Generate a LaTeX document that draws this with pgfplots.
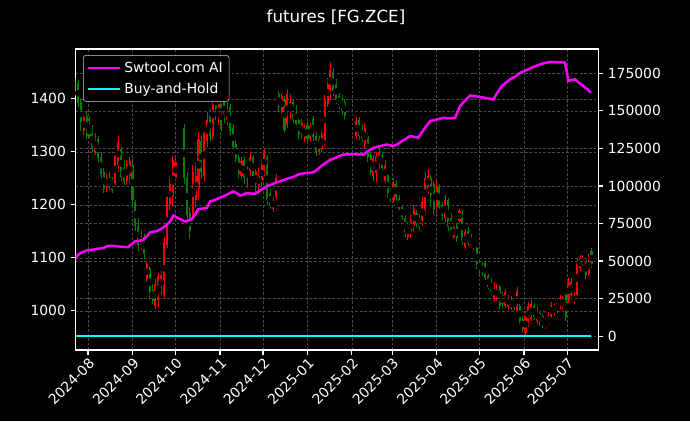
\documentclass[border=0pt]{standalone}
\usepackage{pgfplots}
\pgfplotsset{compat=1.18}
\usepackage{pgfplotstable}
\usepackage{fontspec}
\setmainfont{DejaVu Sans}

\definecolor{upred}{RGB}{255,0,0}
\definecolor{dngreen}{RGB}{0,128,0}
\definecolor{gridc}{RGB}{72,72,72}
\definecolor{stratc}{RGB}{255,0,255}
\definecolor{bhc}{RGB}{0,255,255}

% d = days since 2024-08-01 ; o h l c
\pgfplotstableread{
d o h l c
-9 1415 1440 1408 1432
-7 1430 1436 1385 1392
-5 1395 1402 1340 1350
-3 1340 1372 1332 1365
-1 1368 1375 1325 1330
1 1350 1368 1322 1328
3 1340 1350 1300 1305
5 1300 1335 1295 1328
7 1325 1330 1280 1288
9 1290 1300 1250 1258
11 1262 1270 1222 1230
13 1232 1258 1225 1250
15 1252 1262 1228 1236
17 1245 1252 1222 1228
19 1240 1300 1235 1292
21 1275 1330 1262 1318
23 1305 1310 1245 1252
25 1270 1285 1238 1245
27 1245 1285 1238 1278
29 1255 1290 1240 1282
31 1275 1280 1200 1210
33 1205 1210 1150 1160
35 1160 1175 1112 1125
37 1125 1150 1115 1140
39 1140 1145 1100 1108
41 1060 1092 1055 1088
43 1080 1085 1020 1030
45 1040 1050 1012 1018
47 1010 1060 1003 1050
49 1020 1072 1005 1065
51 1040 1075 1030 1068
53 1030 1140 1022 1130
55 1125 1225 1118 1215
57 1200 1250 1190 1240
59 1215 1292 1195 1285
61 1250 1295 1240 1280
67 1345 1352 1240 1250
69 1250 1262 1170 1180
71 1185 1195 1136 1150
73 1180 1275 1175 1262
75 1210 1280 1195 1255
77 1230 1338 1210 1325
79 1320 1330 1250 1262
81 1255 1345 1245 1335
83 1320 1375 1310 1360
85 1370 1380 1320 1330
87 1330 1420 1325 1410
89 1415 1428 1360 1372
91 1365 1400 1350 1390
93 1385 1392 1340 1348
95 1400 1405 1355 1362
97 1360 1395 1350 1385
99 1385 1390 1330 1340
101 1345 1352 1300 1310
103 1315 1322 1280 1288
105 1290 1295 1250 1258
107 1255 1290 1248 1282
109 1285 1290 1240 1250
111 1248 1280 1232 1272
113 1260 1300 1255 1290
115 1290 1295 1245 1255
117 1240 1275 1220 1262
119 1235 1270 1220 1255
121 1245 1285 1235 1275
123 1265 1306 1255 1298
125 1290 1295 1200 1210
127 1220 1230 1192 1200
129 1192 1215 1187 1210
131 1215 1258 1210 1250
133 1410 1415 1378 1385
135 1375 1412 1370 1405
137 1400 1405 1335 1342
139 1350 1418 1345 1410
141 1375 1410 1362 1395
143 1395 1400 1355 1362
145 1380 1388 1345 1352
147 1360 1368 1325 1332
149 1330 1362 1325 1355
151 1325 1352 1318 1345
153 1350 1356 1318 1325
155 1325 1355 1320 1348
157 1362 1368 1320 1328
159 1330 1338 1292 1300
161 1300 1330 1295 1322
163 1305 1340 1300 1332
165 1320 1408 1312 1400
167 1390 1440 1385 1432
169 1410 1470 1400 1455
171 1450 1458 1405 1415
173 1430 1438 1390 1398
175 1405 1412 1380 1388
177 1400 1408 1370 1378
179 1395 1400 1362 1368
187 1330 1365 1325 1358
189 1360 1365 1322 1330
191 1345 1352 1318 1325
193 1310 1355 1305 1345
195 1330 1335 1280 1290
197 1295 1300 1256 1262
199 1255 1295 1245 1288
201 1260 1300 1243 1292
203 1275 1306 1268 1298
205 1295 1300 1262 1270
207 1245 1285 1240 1275
209 1256 1262 1212 1220
211 1225 1232 1205 1212
213 1210 1250 1205 1240
215 1240 1246 1208 1215
217 1212 1218 1187 1192
219 1195 1200 1172 1178
221 1175 1180 1140 1148
223 1140 1168 1133 1160
225 1150 1180 1140 1172
227 1160 1200 1150 1192
229 1185 1190 1158 1165
231 1175 1182 1150 1158
233 1165 1215 1160 1205
235 1190 1262 1185 1250
237 1230 1268 1220 1255
239 1250 1256 1200 1208
241 1240 1245 1180 1190
243 1195 1246 1190 1235
245 1235 1240 1188 1195
247 1200 1205 1172 1180
249 1175 1218 1168 1210
251 1210 1212 1150 1158
253 1175 1185 1145 1152
255 1140 1165 1135 1158
257 1160 1165 1130 1138
259 1170 1193 1165 1188
261 1185 1190 1125 1132
263 1120 1155 1117 1148
265 1150 1158 1122 1128
267 1125 1145 1120 1140
269 1118 1136 1115 1130
271 1118 1120 1078 1085
273 1090 1098 1070 1078
275 1085 1092 1065 1072
277 1090 1094 1058 1062
279 1065 1070 1040 1045
281 1058 1062 1030 1035
283 1022 1055 1017 1048
285 1025 1050 1018 1042
287 1045 1048 1004 1010
289 1030 1036 1005 1012
291 1010 1042 1005 1035
293 1008 1030 1002 1025
295 1005 1028 1001 1020
297 1020 1024 1002 1006
299 1000 1045 998 1038
301 1010 1012 975 980
303 985 990 960 966
305 958 998 954 990
307 975 1017 970 1010
309 985 1020 980 1012
311 1010 1015 982 988
313 980 1010 975 1002
315 995 998 972 978
317 990 994 968 972
319 968 985 965 980
321 975 998 972 992
323 990 1017 986 1010
325 995 1015 990 1008
327 998 1020 995 1015
329 1005 1030 1003 1025
331 1010 1028 1004 1022
333 1030 1032 980 988
335 1020 1061 1015 1055
337 1030 1062 1025 1055
339 1014 1036 1012 1030
341 1030 1099 1028 1090
343 1080 1105 1075 1100
345 1086 1105 1084 1100
347 1095 1099 1061 1068
349 1070 1108 1065 1100
351 1112 1118 1080 1088
}\candles

\pgfplotstableread{
d r
-9 51500
-7.9 53400
-5 55500
-0.9 57000
3 57500
7 58200
10.7 58600
13.9 60100
18 60000
23 59500
27.9 59200
30 61000
32.8 63000
36 63500
38.4 64100
41 66500
43.2 69000
46 69600
48.8 70300
52 72000
54.9 74100
57 76000
59.5 80300
62 79000
65 77500
67.6 76300
70 77000
72.3 77900
75 81500
76.9 84600
80 85000
82.8 85300
85.1 89700
88 90500
91 91800
94.4 93100
98 94800
101.3 96400
104 95000
106 93500
108 94200
110.7 95300
113 95000
116.5 94900
120 97000
124.6 99800
128 101000
131.6 102500
135 103500
138.6 104700
143 106000
147.8 108000
152 108600
157.1 109100
160 111000
163 113600
166 115500
168.8 117400
172 118500
175 119800
178 120900
185 121200
192 120900
195 123000
199 125400
204 126600
208.3 127600
212.9 126500
216 128000
220 130500
224.5 133200
227 132800
230.3 132100
234 137500
238.5 143200
242 144000
247.8 145400
252 145000
255.9 145400
257.5 149000
259.4 153200
263 157000
266.4 160300
270 159800
275 159000
282.6 157600
285 161500
288.5 166500
291 168500
294.3 171000
298 173000
301.3 175400
304 176500
307 177700
311 179500
315.2 181000
318 181800
322.2 182600
328 182400
332.6 182200
334.9 170000
337 170500
339.6 171000
342 169000
345.4 166500
348 164500
350.6 162100
}\strat

\begin{document}
\begin{tikzpicture}
\fill[black] (0,0) rectangle (496.8pt,303.12pt);
\path[use as bounding box] (0,0) rectangle (496.8pt,303.12pt);
\pgfplotsset{
  common/.style={
    at={(54.5pt,51.1pt)}, anchor=south west,
    scale only axis, width=376.1pt, height=216.7pt,
    xmin=-8.6, xmax=355.6,
    axis line style={white, line width=0.8pt},
    tick style={white, line width=0.8pt},
    major tick length=3.5pt,
    tick align=outside,
    ticklabel style={white, font=\fontsize{10}{12}\selectfont},
    label style={white, font=\fontsize{10}{12}\selectfont},
    /pgf/number format/assume math mode=true,
    grid style={gridc, dash pattern=on 2pt off 1.3pt, line width=0.4pt},
  },
  candle/.style 2 args={only marks, mark=none, forget plot,
    error bars/y dir=both, error bars/y explicit, error bars/error mark=none,
    error bars/error bar style={solid, draw=#1, line width=#2}},
}
\begin{axis}[common,
  ymin=926, ymax=1494,
  xtick={0,31,61,92,122,153,184,212,243,273,304,334},
  xticklabels={2024-08,2024-09,2024-10,2024-11,2024-12,2025-01,2025-02,2025-03,2025-04,2025-05,2025-06,2025-07},
  xticklabel style={rotate=45, anchor=north east, inner sep=1pt},
  xtick pos=bottom, ytick pos=left,
  ytick={1000,1100,1200,1300,1400},
  yticklabel style={/pgf/number format/1000 sep={}},
  xmajorgrids=true, ymajorgrids=true,
  ylabel={Price},
  every axis y label/.style={at={(axis description cs:-0.112,0.5)}, rotate=90, anchor=center},
]
% wicks
\addplot[candle={upred}{0.55pt}, restrict expr to domain={\thisrow{c}-\thisrow{o}}{0:1000}]
  table[x=d, y expr={(\thisrow{h}+\thisrow{l})/2}, y error expr={(\thisrow{h}-\thisrow{l})/2}] {\candles};
\addplot[candle={dngreen}{0.55pt}, restrict expr to domain={\thisrow{c}-\thisrow{o}}{-1000:-0.001}]
  table[x=d, y expr={(\thisrow{h}+\thisrow{l})/2}, y error expr={(\thisrow{h}-\thisrow{l})/2}] {\candles};
% bodies
\addplot[candle={upred}{1.5pt}, restrict expr to domain={\thisrow{c}-\thisrow{o}}{0:1000}]
  table[x=d, y expr={(\thisrow{o}+\thisrow{c})/2}, y error expr={abs(\thisrow{c}-\thisrow{o})/2}] {\candles};
\addplot[candle={dngreen}{1.5pt}, restrict expr to domain={\thisrow{c}-\thisrow{o}}{-1000:-0.001}]
  table[x=d, y expr={(\thisrow{o}+\thisrow{c})/2}, y error expr={abs(\thisrow{c}-\thisrow{o})/2}] {\candles};
\end{axis}

\begin{axis}[common,
  ymin=-9300, ymax=191200,
  axis y line*=right, axis x line=none,
  ytick={0,25000,50000,75000,100000,125000,150000,175000},
  scaled y ticks=false,
  yticklabel style={/pgf/number format/fixed, /pgf/number format/1000 sep={}},
  ymajorgrids=true,
  ylabel={Return},
  every axis y label/.style={at={(axis description cs:1.1436,0.5)}, rotate=90, anchor=center},
  legend style={at={(axis description cs:0.014,0.98)}, anchor=north west,
    fill=black, draw=white!80!black, rounded corners=2pt, text=white,
    font=\fontsize{10}{12}\selectfont, inner sep=2.5pt, row sep=2pt,
    cells={anchor=west}},
  legend image code/.code={\draw[#1] (0pt,0pt) -- (23pt,0pt);},
]
\addplot[stratc, line width=1.8pt] table[x=d, y=r] {\strat};
\addlegendentry{Swtool.com AI}
\addplot[bhc, line width=2pt] coordinates {(-8.6,0) (351,0)};
\addlegendentry{Buy-and-Hold}
\end{axis}
\node[white, font=\fontsize{12}{14}\selectfont] at (241.9pt,290.9pt) {futures [FG.ZCE]};
\end{tikzpicture}
\end{document}
